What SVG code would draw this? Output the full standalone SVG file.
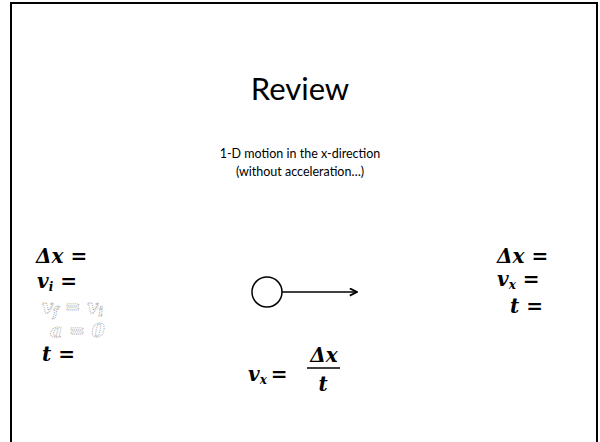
<svg xmlns="http://www.w3.org/2000/svg" width="600" height="442" viewBox="0 0 600 442">
<style>
.slide{font-family:Lato,"Open Sans","Liberation Sans",sans-serif;fill:#000;text-anchor:middle}
.m{font-family:"DejaVu Serif","Liberation Serif",serif;font-weight:bold;font-style:italic;font-size:20px;fill:#000}
.g{font-family:"DejaVu Serif","Liberation Serif",serif;font-weight:bold;font-style:italic;font-size:19px;fill:none;stroke:#9a9a9a;stroke-width:0.8;stroke-dasharray:1 1}
.sub{font-size:12px}
</style>
<defs>
<marker id="ah" viewBox="0 0 10 10" refX="9" refY="5" markerWidth="9" markerHeight="9" markerUnits="userSpaceOnUse" orient="auto">
<path d="M1,1 L9,5 L1,9" fill="none" stroke="#000" stroke-width="2"/>
</marker>
</defs>
<rect x="11" y="3" width="586" height="460" fill="#fff" stroke="#000" stroke-width="2"/>
<g id="title"><text class="slide" x="300" y="100" font-size="31">Review</text></g>
<g id="subtitle"><text class="slide" x="300" y="158" font-size="12.5">1-D motion in the x-direction</text>
<text class="slide" x="300" y="176" font-size="12.5">(without acceleration…)</text></g>
<g id="left">
<text class="m" x="36" y="263">Δx =</text>
<text class="m" x="37" y="288">v<tspan class="sub" dy="3">i</tspan><tspan dy="-3"> =</tspan></text>
<text class="g" x="42" y="313">v<tspan class="sub" dy="3">f</tspan><tspan dy="-3"> = v</tspan><tspan class="sub" dy="3">i</tspan></text>
<text class="g" x="50" y="337">a = 0</text>
<text class="m" x="42" y="361">t =</text>
</g>
<g id="object"><circle cx="267" cy="292" r="15" fill="#fff" stroke="#000" stroke-width="1.5"/></g>
<g id="connectors"><line x1="282" y1="292" x2="357" y2="292" stroke="#000" stroke-width="1.5" marker-end="url(#ah)"/></g>
<g id="formula">
<text class="m" x="248" y="381">v<tspan class="sub" dy="3">x</tspan><tspan dy="-3" dx="4">=</tspan></text>
<text class="m" x="324" y="362" text-anchor="middle">Δx</text>
<line x1="307" y1="368" x2="340" y2="368" stroke="#000" stroke-width="1.5"/>
<text class="m" x="323" y="391" text-anchor="middle">t</text>
</g>
<g id="right">
<text class="m" x="497" y="263">Δx =</text>
<text class="m" x="497" y="286">v<tspan class="sub" dy="3">x</tspan><tspan dy="-3"> =</tspan></text>
<text class="m" x="510" y="313">t =</text>
</g>
</svg>
